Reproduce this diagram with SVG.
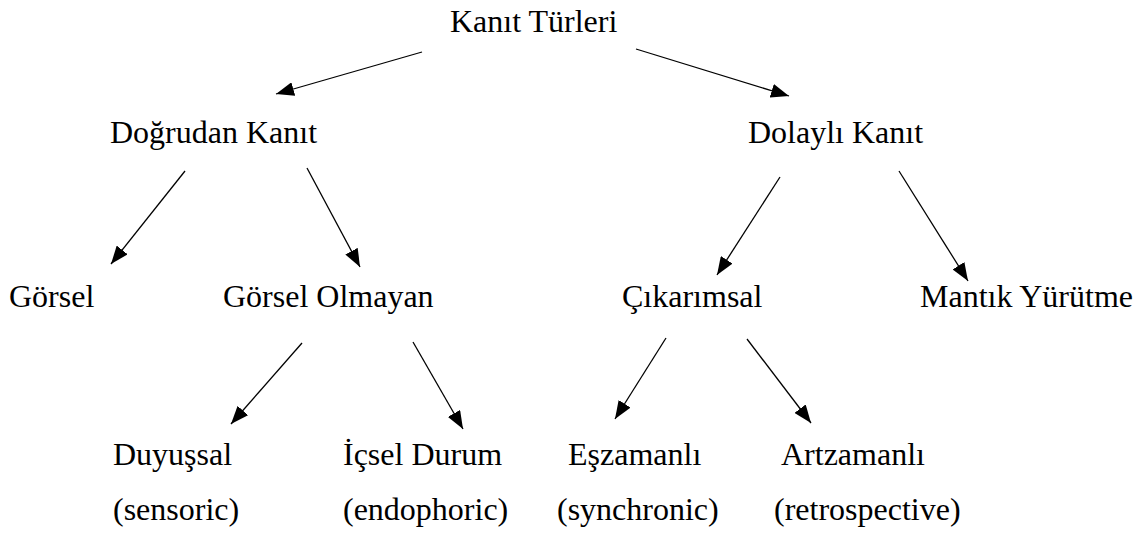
<svg xmlns="http://www.w3.org/2000/svg" width="1145" height="537" viewBox="0 0 1145 537">
<defs>
<marker id="ah" markerUnits="userSpaceOnUse" markerWidth="18" markerHeight="14" refX="18" refY="7" orient="auto">
<path d="M0,0 L18,7 L0,14 z" fill="#000"/>
</marker>
<style>
text{font-family:"Liberation Serif","Times New Roman",serif;font-size:32px;fill:#000}
.c line{stroke:#000;stroke-width:1.3;marker-end:url(#ah)}
</style>
</defs>
<rect width="1145" height="537" fill="#fff"/>
<g id="connectors" class="c">
<line x1="422" y1="52" x2="276" y2="94"/>
<line x1="636" y1="49" x2="789" y2="96"/>
<line x1="185" y1="171" x2="111" y2="264"/>
<line x1="307" y1="168" x2="360" y2="267"/>
<line x1="780" y1="177" x2="717" y2="275"/>
<line x1="899" y1="171" x2="968" y2="281"/>
<line x1="302" y1="343" x2="231" y2="424"/>
<line x1="413" y1="342" x2="463" y2="429"/>
<line x1="666" y1="338" x2="615" y2="419"/>
<line x1="747" y1="339" x2="811" y2="423"/>
</g>
<g id="n-root"><text x="450" y="32">Kanıt Türleri</text></g>
<g id="n-dogrudan"><text x="110" y="143">Doğrudan Kanıt</text></g>
<g id="n-dolayli"><text x="748" y="143">Dolaylı Kanıt</text></g>
<g id="n-gorsel"><text x="9" y="307">Görsel</text></g>
<g id="n-gorsel-olmayan"><text x="223" y="307">Görsel Olmayan</text></g>
<g id="n-cikarimsal"><text x="622" y="307">Çıkarımsal</text></g>
<g id="n-mantik"><text x="920" y="307">Mantık Yürütme</text></g>
<g id="n-duyussal"><text x="113" y="465">Duyuşsal</text><text x="113" y="520">(sensoric)</text></g>
<g id="n-icsel"><text x="343" y="465">İçsel Durum</text><text x="343" y="520">(endophoric)</text></g>
<g id="n-eszamanli"><text x="568" y="465">Eşzamanlı</text><text x="557" y="520">(synchronic)</text></g>
<g id="n-artzamanli"><text x="781" y="465">Artzamanlı</text><text x="774" y="520">(retrospective)</text></g>
</svg>
